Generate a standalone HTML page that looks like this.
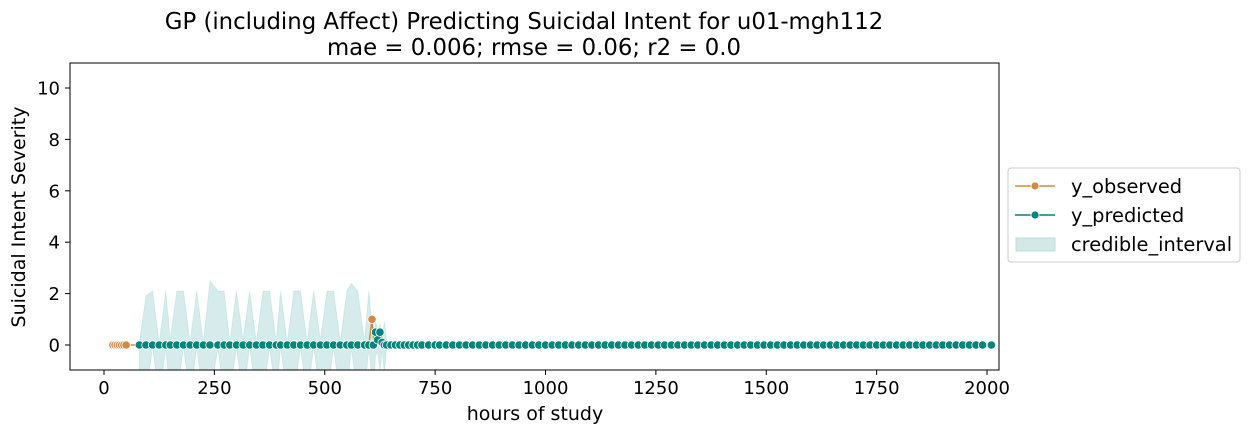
<!DOCTYPE html>
<html><head><meta charset="utf-8"><style>
body{margin:0;background:#fff;}
svg{display:block;font-family:"DejaVu Sans","Liberation Sans",sans-serif;}
</style></head><body>
<svg id="chart" width="1251" height="434">
<text x="524" y="29" font-size="22.8" text-anchor="middle">GP (including Affect) Predicting Suicidal Intent for u01-mgh112</text>
<text x="534" y="55" font-size="22.8" text-anchor="middle">mae = 0.006; rmse = 0.06; r2 = 0.0</text>
<defs><clipPath id="pc"><rect x="70" y="63" width="929" height="307"/></clipPath></defs>
<g id="plot" clip-path="url(#pc)"></g>
<rect x="70" y="63" width="929" height="307" fill="none" stroke="#000" stroke-width="1"/>
<g id="axes"></g>
<text x="535" y="420" font-size="19" text-anchor="middle">hours of study</text>
<text transform="translate(25,217) rotate(-90)" font-size="19" text-anchor="middle">Suicidal Intent Severity</text>
<g>
<rect x="1008" y="168" width="232" height="94" rx="3" fill="#fff" stroke="#ccc"/>
<g><line x1="1015" y1="186" x2="1055" y2="186" stroke="#d48a45" stroke-width="1.6"/><circle cx="1035" cy="186" r="4" fill="#d48a45" stroke="#fff" stroke-width="0.8"/><text x="1071" y="193" font-size="19.4">y_observed</text></g>
<g><line x1="1015" y1="215" x2="1055" y2="215" stroke="#00847c" stroke-width="1.6"/><circle cx="1035" cy="215" r="4" fill="#00847c" stroke="#fff" stroke-width="0.8"/><text x="1071" y="222" font-size="19.4">y_predicted</text></g>
<g><rect x="1016" y="238" width="39" height="13" fill="#d3e9e8" stroke="#bcdcda"/><text x="1071" y="251" font-size="19.4">credible_interval</text></g>
</g>
</svg>
<script>
const xTicks=[0,250,500,750,1000,1250,1500,1750,2000];
const yTicks=[0,2,4,6,8,10];
const predHours=[80,95,110,125,140,150,165,180,195,210,225,240,258,272,285,300,315,330,345,360,375,390,400,415,430,445,460,475,490,505,520,535,550,560,575,590,600,610,615,620,625,630,635,640,650,660,670,680,690,700,710,720,735,750,760,775,790,805,820,835,850,865,880,895,910,925,940,955,970,985,1000,1015,1030,1045,1060,1075,1090,1105,1120,1135,1150,1165,1180,1195,1210,1225,1240,1255,1270,1285,1300,1315,1330,1345,1360,1375,1390,1405,1420,1435,1450,1465,1480,1495,1510,1525,1540,1555,1570,1585,1600,1615,1630,1645,1660,1675,1690,1705,1720,1735,1750,1765,1780,1795,1810,1825,1840,1855,1870,1885,1900,1915,1930,1945,1960,1975,1990,2010];
const predValues=predHours.map(h=>0);
predValues[predHours.indexOf(615)]=0.5;
predValues[predHours.indexOf(625)]=0.5;
predValues[predHours.indexOf(620)]=0.2;
predValues[predHours.indexOf(630)]=0.1;
const ciUpperEarly=[0.1,1.9,2.1,0.1,2.1,0.2,2.1,2.1,0.1,2.1,0.1,2.5,2.1,2.1,0.1,2.1,0.2,2.1,0.1,2.1,2.1,0.1,2.1,0.1,2.1,2.1,0.1,2.1,0.2,2.1,2.1,0.1,2.1,2.4,2.1,0.1,2.1,0.1,0.9,0.6,0.8,0.3,0.9,0.2];
const ciLowerEarly=[-1.9,-2.0,-0.1,-2.0,-0.1,-2.0,-2.0,-0.1,-2.0,-0.1,-2.0,-2.0,-0.1,-2.0,-2.0,-0.1,-2.0,-0.1,-2.0,-2.0,-0.1,-2.0,-0.1,-2.0,-2.0,-0.1,-2.0,-0.1,-2.0,-2.0,-0.1,-2.0,-2.0,-0.1,-2.0,-2.0,-0.1,-2.0,-0.4,-0.3,-1.0,-0.2,-1.1,-0.1];
const ciHalfLate=0.08;
const obsHours=[20,25,30,35,40,45,50,600,607,612];
const obsValues=[0,0,0,0,0,0,0,0,1,0];

const X=v=>104+v*(987-104)/2000;
const Y=v=>345-v*(345-88)/10;
const NS="http://www.w3.org/2000/svg";
const plot=document.getElementById('plot'),axes=document.getElementById('axes');
function mk(p,t,a){const e=document.createElementNS(NS,t);for(const k in a)e.setAttribute(k,a[k]);p.appendChild(e);return e;}
xTicks.forEach(t=>{const g=mk(axes,'g',{});


mk(g,'line',{x1:X(t),x2:X(t),y1:370,y2:375,stroke:'#000'});
const tx=mk(g,'text',{x:X(t),y:394,'font-size':18,'text-anchor':'middle'});tx.textContent=t;});
yTicks.forEach(t=>{const g=mk(axes,'g',{});


mk(g,'line',{x1:65,x2:70,y1:Y(t),y2:Y(t),stroke:'#000'});
const tx=mk(g,'text',{x:60,y:Y(t)+6.5,'font-size':18,'text-anchor':'end'});tx.textContent=t;});
const up=predHours.map((h,i)=>i<ciUpperEarly.length?ciUpperEarly[i]:ciHalfLate);
const lo=predHours.map((h,i)=>i<ciLowerEarly.length?ciLowerEarly[i]:-ciHalfLate);
let d='M'+predHours.map((h,i)=>X(h)+','+Y(up[i])).join('L');
for(let i=predHours.length-1;i>=0;i--)d+='L'+X(predHours[i])+','+Y(lo[i]);
const band=mk(plot,'path',{d:d+'Z',fill:'#008b8b','fill-opacity':0.16,stroke:'#008b8b','stroke-opacity':0.1});


function series(hs,vs,c,name){const g=mk(plot,'g',{});


mk(g,'polyline',{points:hs.map((h,i)=>X(h)+','+Y(vs[i])).join(' '),fill:'none',stroke:c,'stroke-width':1.6});
hs.forEach((h,i)=>{const p=mk(g,'circle',{cx:X(h),cy:Y(vs[i]),r:4.2,fill:c,stroke:'#fff','stroke-width':0.8});

});}
series(obsHours,obsValues,'#d48a45','y-observed-series');
series(predHours,predValues,'#00847c','y-predicted-series');
</script>
</body></html>
